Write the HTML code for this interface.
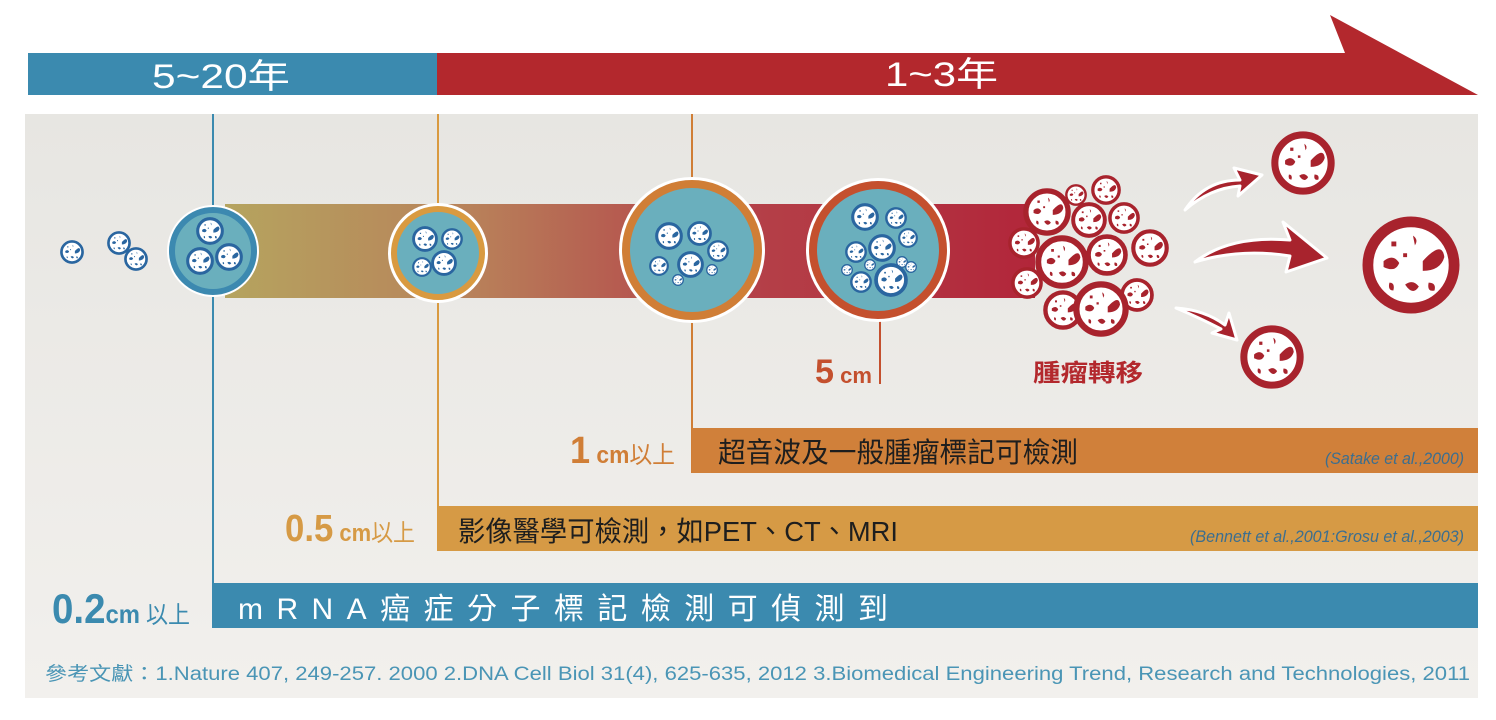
<!DOCTYPE html>
<html><head><meta charset="utf-8"><style>
html,body{margin:0;padding:0;background:#fff;}
svg{display:block;}
text{font-family:"Liberation Sans","Noto Sans CJK TC",sans-serif;}
</style></head><body>
<svg width="1496" height="720" viewBox="0 0 1496 720" xmlns="http://www.w3.org/2000/svg">
<defs>
<linearGradient id="pan" x1="0" y1="0" x2="0" y2="1"><stop offset="0" stop-color="#e7e6e2"/><stop offset="1" stop-color="#f2f0ed"/></linearGradient>
<linearGradient id="band" x1="0" y1="0" x2="1" y2="0"><stop offset="0" stop-color="#b5a45f"/><stop offset="0.3" stop-color="#b8825a"/><stop offset="0.6" stop-color="#b4444a"/><stop offset="1" stop-color="#b2263a"/></linearGradient>
<symbol id="c" viewBox="-50 -50 100 100">
<circle r="44" fill="#fff" stroke="currentColor" stroke-width="11"/>
<path d="M2 -30 q6 4 2 10 z M12 -4 q20 -22 22 -4 q-4 14 -22 14 z M-28 -4 q10 -8 16 2 q-4 10 -16 4 z M-6 20 q8 -6 14 2 q-6 10 -14 -2 z M18 18 q8 0 6 8 q-8 2 -6 -8z M-20 -24 l5 0 0 5 -5 0z M-22 18 q6 0 4 8 q-6 0 -4 -8z M-8 -12 l4 0 0 4 -4 0z" fill="currentColor"/>
</symbol>
</defs>
<rect x="0" y="0" width="1496" height="720" fill="#fff"/>
<rect x="28" y="53" width="410" height="42" fill="#3b8aaf"/>
<polygon points="437,53 1345,53 1330,15 1478,95 437,95" fill="#b3282d"/>
<text x="152" y="88" fill="#fff" font-size="34" textLength="138" lengthAdjust="spacingAndGlyphs">5~20年</text>
<text x="885" y="86" fill="#fff" font-size="34" textLength="113" lengthAdjust="spacingAndGlyphs">1~3年</text>
<rect x="25" y="114" width="1453" height="584" fill="url(#pan)"/>
<rect x="225" y="204" width="810" height="94" fill="url(#band)"/>
<line x1="213" y1="114" x2="213" y2="628" stroke="#3b8aaf" stroke-width="2"/>
<line x1="438" y1="114" x2="438" y2="551" stroke="#d99a40" stroke-width="2"/>
<line x1="692" y1="114" x2="692" y2="473" stroke="#d07e36" stroke-width="2"/>
<line x1="880" y1="318" x2="880" y2="384" stroke="#c4502e" stroke-width="2"/>
<g color="#2a66a0">
<use href="#c" x="60" y="239" width="24" height="26"/>
<use href="#c" x="107" y="230" width="24" height="26"/>
<use href="#c" x="124" y="246" width="24" height="26"/>
</g>
<circle cx="213" cy="251" r="46" fill="#fff"/>
<circle cx="213" cy="251" r="41" fill="#6aafbd" stroke="#3c89b0" stroke-width="6"/>
<g color="#2a66a0">
<use href="#c" x="196" y="216" width="28" height="30"/>
<use href="#c" x="186" y="246" width="28" height="30"/>
<use href="#c" x="215" y="242" width="28" height="30"/>
</g>
<circle cx="438" cy="253" r="50" fill="#fff"/>
<circle cx="438" cy="253" r="44" fill="#6aafbd" stroke="#d99a40" stroke-width="6"/>
<g color="#2a66a0">
<use href="#c" x="412" y="226" width="26" height="26"/>
<use href="#c" x="441" y="228" width="22" height="22"/>
<use href="#c" x="412" y="257" width="20" height="20"/>
<use href="#c" x="431" y="250" width="26" height="26"/>
</g>
<circle cx="692" cy="250" r="73" fill="#fff"/>
<circle cx="692" cy="250" r="66" fill="#6aafbd" stroke="#d07e36" stroke-width="8"/>
<g color="#2a66a0">
<use href="#c" x="655" y="222" width="28" height="28"/>
<use href="#c" x="687" y="221" width="25" height="25"/>
<use href="#c" x="707" y="240" width="22" height="22"/>
<use href="#c" x="649" y="256" width="20" height="20"/>
<use href="#c" x="677" y="251" width="27" height="27"/>
<use href="#c" x="706" y="264" width="12" height="12"/>
<use href="#c" x="672" y="274" width="12" height="12"/>
</g>
<circle cx="878" cy="250" r="72" fill="#fff"/>
<circle cx="878" cy="250" r="65" fill="#6aafbd" stroke="#c4502e" stroke-width="8"/>
<g color="#2a66a0">
<use href="#c" x="851" y="203" width="28" height="28"/>
<use href="#c" x="885" y="207" width="22" height="22"/>
<use href="#c" x="898" y="228" width="20" height="20"/>
<use href="#c" x="845" y="241" width="22" height="22"/>
<use href="#c" x="868" y="234" width="28" height="28"/>
<use href="#c" x="896" y="256" width="12" height="12"/>
<use href="#c" x="841" y="264" width="12" height="12"/>
<use href="#c" x="864" y="259" width="12" height="12"/>
<use href="#c" x="905" y="261" width="12" height="12"/>
<use href="#c" x="850" y="271" width="22" height="22"/>
<use href="#c" x="874" y="263" width="34" height="34"/>
</g>
<g color="#a8232d">
<use href="#c" x="1023" y="188" width="48" height="48"/>
<use href="#c" x="1065" y="184" width="22" height="22"/>
<use href="#c" x="1091" y="175" width="30" height="30"/>
<use href="#c" x="1071" y="202" width="36" height="36"/>
<use href="#c" x="1108" y="202" width="32" height="32"/>
<use href="#c" x="1008" y="227" width="32" height="32"/>
<use href="#c" x="1035" y="235" width="54" height="54"/>
<use href="#c" x="1086" y="234" width="42" height="42"/>
<use href="#c" x="1131" y="229" width="38" height="38"/>
<use href="#c" x="1011" y="267" width="32" height="32"/>
<use href="#c" x="1120" y="278" width="34" height="34"/>
<use href="#c" x="1043" y="290" width="40" height="40"/>
<use href="#c" x="1073" y="281" width="56" height="56"/>
</g>
<g fill="#a8232d" stroke="#fff" stroke-width="3" stroke-linejoin="round">
<path d="M1185 210 Q1205 180 1240 180 L1234 168 L1262 175 L1238 196 L1240 186 Q1210 188 1185 210 Z"/>
<path d="M1195 262 Q1230 235 1290 240 L1283 222 L1327 258 L1286 272 L1290 256 Q1240 248 1195 262 Z"/>
<path d="M1176 308 Q1205 310 1225 325 L1229 313 L1237 340 L1212 333 L1221 329 Q1200 318 1176 308 Z"/>
</g>
<g color="#a8232d">
<use href="#c" x="1271" y="131" width="64" height="64"/>
<use href="#c" x="1362" y="216" width="98" height="98"/>
<use href="#c" x="1240" y="325" width="64" height="64"/>
</g>
<text x="815" y="383" fill="#c4502e" font-size="34" font-weight="bold" textLength="57" lengthAdjust="spacingAndGlyphs">5<tspan font-size="22"> cm</tspan></text>
<text x="1033" y="381" fill="#b3282d" font-size="24" font-weight="bold" textLength="110" lengthAdjust="spacingAndGlyphs">腫瘤轉移</text>
<rect x="692" y="428" width="786" height="45" fill="#d0803a"/>
<rect x="438" y="506" width="1040" height="45" fill="#d69a45"/>
<rect x="213" y="583" width="1265" height="45" fill="#3b8aaf"/>
<text x="718" y="462" fill="#1e1e1e" font-size="28" textLength="360" lengthAdjust="spacingAndGlyphs">超音波及一般腫瘤標記可檢測</text>
<text x="1464" y="464" fill="#3c6e8f" font-size="17" font-style="italic" text-anchor="end" textLength="139" lengthAdjust="spacingAndGlyphs">(Satake et al.,2000)</text>
<text x="458" y="541" fill="#1e1e1e" font-size="28" textLength="440" lengthAdjust="spacingAndGlyphs">影像醫學可檢測，如PET、CT、MRI</text>
<text x="1464" y="542" fill="#3c6e8f" font-size="17" font-style="italic" text-anchor="end" textLength="274" lengthAdjust="spacingAndGlyphs">(Bennett et al.,2001:Grosu et al.,2003)</text>
<text x="238" y="619" fill="#fff" font-size="30" textLength="650" lengthAdjust="spacing">mRNA癌症分子標記檢測可偵測到</text>
<text x="570" y="463" fill="#d07e36" font-size="38" font-weight="bold" textLength="105" lengthAdjust="spacingAndGlyphs">1<tspan font-size="24"> cm</tspan><tspan font-size="24" font-weight="normal">以上</tspan></text>
<text x="285" y="541" fill="#d69a45" font-size="38" font-weight="bold" textLength="130" lengthAdjust="spacingAndGlyphs">0.5<tspan font-size="24"> cm</tspan><tspan font-size="24" font-weight="normal">以上</tspan></text>
<text x="52" y="623" fill="#3b8aaf" font-size="42" font-weight="bold" textLength="138" lengthAdjust="spacingAndGlyphs">0.2<tspan font-size="26">cm</tspan><tspan font-size="24" font-weight="normal"> 以上</tspan></text>
<text x="45" y="680" fill="#4a95b5" font-size="19" textLength="1425" lengthAdjust="spacingAndGlyphs">參考文獻：1.Nature 407, 249-257. 2000   2.DNA Cell Biol 31(4), 625-635, 2012   3.Biomedical Engineering Trend,  Research and Technologies, 2011</text>
</svg>
</body></html>
